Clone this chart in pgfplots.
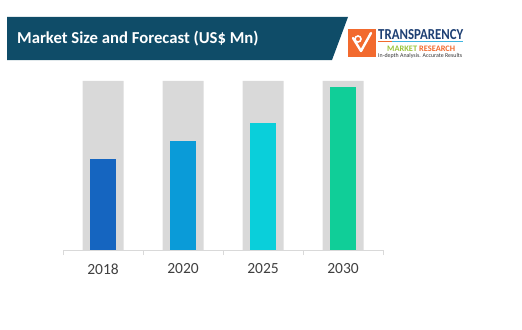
\documentclass[border=0pt]{standalone}
\usepackage{pgfplots}
\pgfplotsset{compat=1.18}
\usepackage{graphicx}
\usepackage{fontspec}
\setmainfont{Carlito}
\definecolor{banner}{HTML}{0F4C68}
\definecolor{gbar}{HTML}{D9D9D9}
\definecolor{cA}{HTML}{1565C0}
\definecolor{cB}{HTML}{0A9BD8}
\definecolor{cC}{HTML}{0ACFDA}
\definecolor{cD}{HTML}{10CE98}
\definecolor{logoorange}{HTML}{F26A2E}
\definecolor{logonavy}{HTML}{1D3F73}
\definecolor{logogreen}{HTML}{9CC43C}
\definecolor{logocyan}{HTML}{3FB6E0}
\definecolor{ticktext}{HTML}{404040}
\begin{document}
\begin{tikzpicture}[x=1bp,y=1bp]
\path[use as bounding box] (0,0) rectangle (522,329);
% banner
\fill[banner] (7,312) -- (348,312) -- (332,269) -- (7,269) -- cycle;
\node[anchor=west,text=white,font=\bfseries\fontsize{16.7bp}{18bp}\selectfont,inner sep=0pt] at (17,290) {Market Size and Forecast (US\$ Mn)};
% logo
\fill[logoorange] (348,300) rectangle (376,272);
\draw[white,line width=2.4bp,line cap=round,line join=round] (353,291) -- (361,278) -- (371,296);
\draw[white,line width=1.6bp] (358,290) circle (3bp);
\node[anchor=west,inner sep=0pt,text=logonavy] at (378,294) {\resizebox{85bp}{10bp}{\bfseries TRANSPARENCY}};
\fill[logoorange] (378,287.6) rectangle (392,286.6);
\fill[logocyan] (392,287.6) rectangle (463,286.6);
\node[anchor=west,inner sep=0pt] at (387,280.5) {\resizebox{68bp}{5.5bp}{\bfseries\textcolor{logogreen}{MARKET} \textcolor{logoorange}{RESEARCH}}};
\node[anchor=west,inner sep=0pt,text=black!80] at (378,273.5) {\resizebox{84bp}{!}{In-depth Analysis. Accurate Results}};
\begin{axis}[
  at={(63bp,79bp)}, anchor=south west,
  scale only axis, width=320bp, height=169bp,
  xmin=-0.5, xmax=3.5, ymin=0, ymax=100,
  axis x line=bottom, axis y line=none,
  x axis line style={-, draw=gbar, line width=0.8bp},
  xtick={0,1,2,3}, xticklabels={2018,2020,2025,2030},
  major tick length=0pt,
  minor xtick={-0.5,0.5,1.5,2.5,3.5},
  minor tick length=5bp, tick align=outside,
  minor tick style={draw=gbar, line width=0.8bp},
  xticklabel style={font=\fontsize{15.5bp}{17bp}\selectfont, text=ticktext, yshift=-10bp},
  /pgf/number format/assume math mode=true,
  clip=false,
]
\addplot[ybar, bar width=41bp, bar shift=0pt, fill=gbar, draw=none] coordinates {(0,100) (1,100) (2,100) (3,100)};
\addplot[ybar, bar width=26bp, bar shift=0pt, fill=cA, draw=none] coordinates {(0,53.7)};
\addplot[ybar, bar width=26bp, bar shift=0pt, fill=cB, draw=none] coordinates {(1,64.5)};
\addplot[ybar, bar width=26bp, bar shift=0pt, fill=cC, draw=none] coordinates {(2,75.0)};
\addplot[ybar, bar width=26bp, bar shift=0pt, fill=cD, draw=none] coordinates {(3,96.3)};
\end{axis}
\end{tikzpicture}
\end{document}
